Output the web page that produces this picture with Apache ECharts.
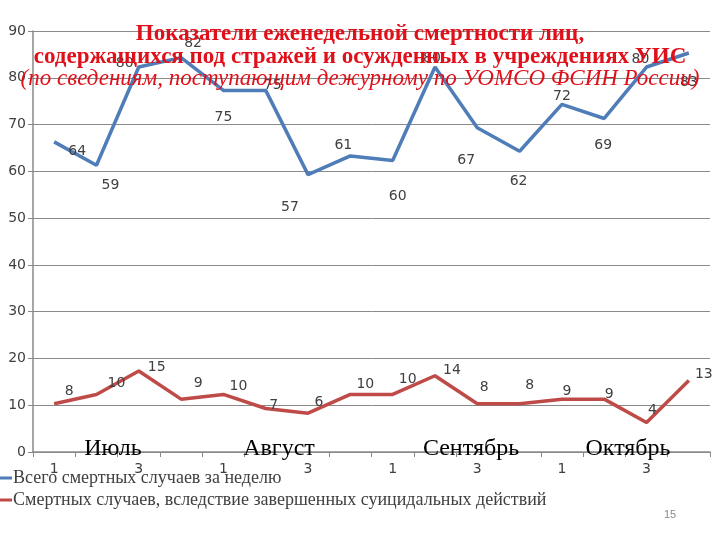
<!DOCTYPE html>
<html>
<head>
<meta charset="utf-8">
<script src="https://cdn.jsdelivr.net/npm/echarts@6/dist/echarts.min.js"></script>
<style>html,body{margin:0;padding:0;background:#fff}#c{width:720px;height:540px}</style>
</head>
<body>
<div id="c"></div>
<script>
// ---- data ----
const months = ['Июль', 'Август', 'Сентябрь', 'Октябрь'];
const weeks = ['1', '2', '3', '4'];
const categories = months.flatMap(m => weeks.map(w => m + ' ' + w));
const totalDeaths = [64, 59, 80, 82, 75, 75, 57, 61, 60, 80, 67, 62, 72, 69, 80, 83];
const suicides = [8, 10, 15, 9, 10, 7, 6, 10, 10, 14, 8, 8, 9, 9, 4, 13];
const yTicks = [0, 10, 20, 30, 40, 50, 60, 70, 80, 90];
const seriesNames = ['Всего смертных случаев за неделю', 'Смертных случаев, вследствие завершенных суицидальных действий'];
const titleLines = [
  'Показатели еженедельной смертности лиц,',
  'содержащихся под стражей и осужденных в учреждениях УИС',
  '(по сведениям, поступающим дежурному по УОМСО ФСИН России)'
];
const pageNumber = '15';

// ---- layout / style (not data) ----
const axisShift = 2.3; // original chart's value axis is offset against its labels
const blueLabelOffsets = [[23,9],[14,20],[-14,-4],[12,-14],[0,27],[7,-5],[-18,33],[-7,-11],[5,36],[-3,-9],[-11,33],[-1,30],[0,-8],[-1,27],[-6,-8],[0,29]];
const redLabelOffsets = [[15,-12],[20,-11],[18,-4],[17,-16],[15,-8],[8,-3],[11,-11],[15,-10],[15,-15],[17,-5],[7,-16],[10,-18],[5,-8],[5,-5],[6,-12],[15,-6]];
const monthLabelX = [113, 279, 471, 628];

const chart = echarts.init(document.getElementById('c'), null, {renderer: 'canvas'});
const labelStyle = {fontFamily: 'DejaVu Sans', fontSize: 14, color: '#404040'};

function mkData(vals, offs) {
  return vals.map((v, i) => ({
    value: v,
    label: {show: true, position: 'inside', offset: offs[i], ...labelStyle}
  }));
}

const option = {
  backgroundColor: '#fff',
  animation: false,
  title: {
    left: 'center',
    top: 18,
    text: '{a|' + titleLines[0] + '}\n{a|' + titleLines[1] + '}\n{b|' + titleLines[2] + '}',
    textStyle: {
      rich: {
        a: {fontFamily: 'Liberation Serif', fontWeight: 'bold', fontSize: 23, color: '#E0101A', lineHeight: 22.5, align: 'center'},
        b: {fontFamily: 'Liberation Serif', fontWeight: 'normal', fontStyle: 'italic', fontSize: 23, color: '#E0101A', lineHeight: 22.5, align: 'center'}
      }
    },
    z: 10
  },
  grid: {left: 33, right: 10, top: 31, bottom: 88, containLabel: false},
  legend: {
    orient: 'vertical',
    left: 0,
    top: 469,
    padding: 0,
    itemWidth: 12,
    itemHeight: 3,
    itemGap: 4,
    icon: 'rect',
    textStyle: {fontFamily: 'Liberation Serif', fontSize: 18, color: '#404040', padding: [0, 0, 0, -4]},
    data: seriesNames
  },
  xAxis: {
    type: 'category',
    data: categories,
    boundaryGap: true,
    axisLine: {onZero: false, lineStyle: {color: '#8a8a8a', width: 1.5}},
    axisTick: {show: true, interval: 0, length: 5, lineStyle: {color: '#8a8a8a'}},
    axisLabel: {
      interval: 1, margin: 10,
      fontFamily: 'DejaVu Sans', fontSize: 14, color: '#404040',
      formatter: v => v.split(' ')[1]
    }
  },
  yAxis: {
    type: 'value',
    min: yTicks[0] - axisShift,
    max: yTicks[yTicks.length - 1] - axisShift,
    interval: 10,
    axisLine: {show: true, lineStyle: {color: '#8a8a8a', width: 1.5}},
    axisTick: {show: true, length: 5, lineStyle: {color: '#8a8a8a'}},
    splitLine: {show: true, lineStyle: {color: '#8a8a8a', width: 1}},
    axisLabel: {
      margin: 7,
      fontFamily: 'DejaVu Sans', fontSize: 14, color: '#404040',
      formatter: v => String(Math.round(v + axisShift))
    }
  },
  series: [
    {
      name: seriesNames[0], type: 'line', data: mkData(totalDeaths, blueLabelOffsets),
      showSymbol: true, symbol: 'circle', symbolSize: 0.01,
      lineStyle: {color: '#4F7DB8', width: 3.5}, itemStyle: {color: '#4F7DB8'}
    },
    {
      name: seriesNames[1], type: 'line', data: mkData(suicides, redLabelOffsets),
      showSymbol: true, symbol: 'circle', symbolSize: 0.01,
      lineStyle: {color: '#BE4B48', width: 3.5}, itemStyle: {color: '#BE4B48'}
    }
  ],
  graphic: [
    ...months.map((m, i) => ({
      type: 'text', x: monthLabelX[i], y: 449, z: 100,
      style: {text: m, fontFamily: 'Liberation Serif', fontSize: 24, fill: '#000', align: 'center', verticalAlign: 'middle'}
    })),
    {type: 'text', x: 670, y: 515, style: {text: pageNumber, fontFamily: 'Liberation Sans', fontSize: 11, fill: '#8a8a8a', align: 'center', verticalAlign: 'middle'}}
  ]
};
chart.setOption(option);
</script>
</body>
</html>
